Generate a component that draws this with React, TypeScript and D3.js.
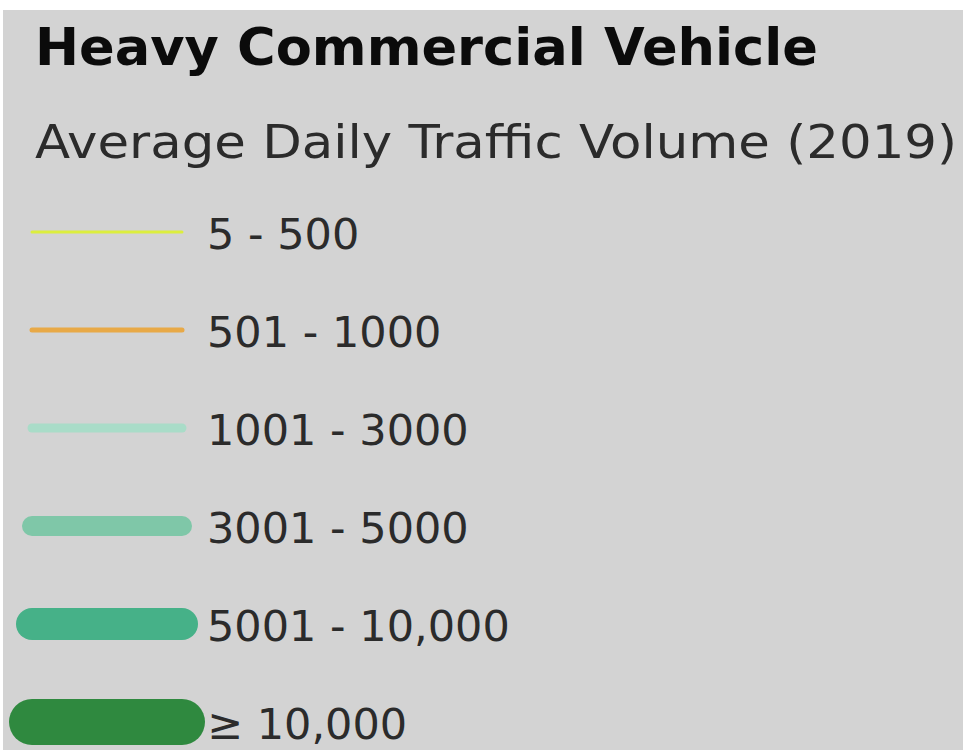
import React from "react";
import * as d3 from "d3";

// legend classes (average daily traffic volume, 2019)
const title = "Heavy Commercial Vehicle";
const subtitle = "Average Daily Traffic Volume (2019)";
const categories = ["5 - 500", "501 - 1000", "1001 - 3000", "3001 - 5000", "5001 - 10,000", "≥ 10,000"];

const palette = ["#dcee3e", "#e8a947", "#a9dcc8", "#7fc7a8", "#46b188", "#2f893f"];
const strokeWidths = [3, 5, 9, 20, 32, 46];

const W = 963;
const H = 750;

export default function App() {
  const y = d3.scalePoint<string>().domain(categories).range([232, 722]);
  const color = d3.scaleOrdinal<string, string>().domain(categories).range(palette);
  const width = d3.scaleOrdinal<string, number>().domain(categories).range(strokeWidths);
  const x = d3.scaleLinear().domain([0, 1]).range([32, 182]);

  const line = d3.line<[number, number]>()
    .x(d => x(d[0]))
    .y(d => d[1]);

  const labelSize = 43;

  return (
    <svg width={W} height={H} style={{ position: "absolute", left: 0, top: 0, display: "block" }}
      fontFamily="'DejaVu Sans', sans-serif">
      <rect x={0} y={0} width={W} height={H} fill="#ffffff" />
      <rect x={3} y={10} width={W - 3} height={H - 10} fill="#d3d3d3" />

      <text x={35} y={65} fontSize={52} fontWeight="bold" fill="#0b0b0b"
        textLength={783} lengthAdjust="spacingAndGlyphs">{title}</text>
      <text x={35} y={158} fontSize={47} fill="#2b2b2b"
        textLength={922} lengthAdjust="spacingAndGlyphs">{subtitle}</text>

      {categories.map(c => {
        const cy = y(c) as number;
        return (
          <g key={c}>
            <path d={line([[0, cy], [1, cy]]) as string} fill="none"
              stroke={color(c)} strokeWidth={width(c)} strokeLinecap="round" />
            <text x={207} y={cy + 17} fontSize={labelSize} fill="#2b2b2b">{c}</text>
          </g>
        );
      })}
    </svg>
  );
}
